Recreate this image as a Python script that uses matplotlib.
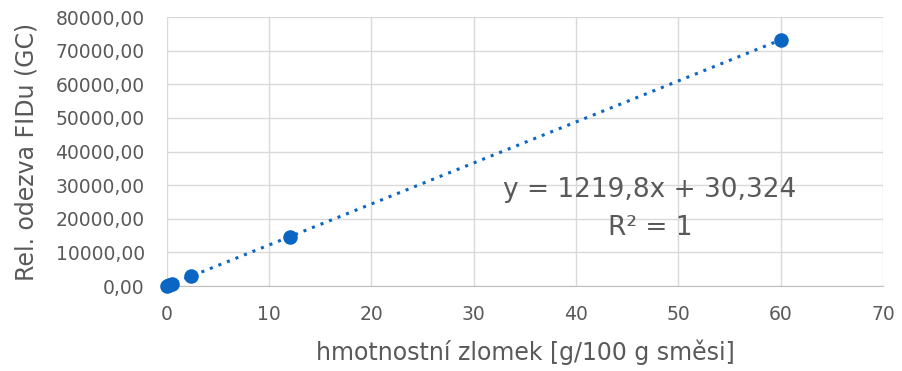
import numpy as np
import matplotlib.pyplot as plt
from matplotlib.ticker import FuncFormatter

# data
conc = [0.05, 0.25, 0.5, 2.4, 12.0, 60.0]
resp = [90.0, 335.0, 640.0, 2960.0, 14670.0, 73220.0]
slope = 1219.8
intercept = 30.324

xticks = [0, 10, 20, 30, 40, 50, 60, 70]
yticks = [0, 10000, 20000, 30000, 40000, 50000, 60000, 70000, 80000]

blue = "#0a66c2"
gray = "#595959"

plt.rcParams['font.family'] = ['DejaVu Sans']

fig = plt.figure(figsize=(9.02, 3.71), dpi=100)
ax = fig.add_axes([0.185, 0.229, 0.794, 0.725])

xl = np.array([min(conc), max(conc)])
ax.plot(xl, slope * xl + intercept, linestyle=(0, (1, 2)), color=blue, lw=2.2, zorder=2)
ax.scatter(conc, resp, s=110, color=blue, zorder=3, linewidths=0, clip_on=False)

ax.set_xlim(0, 70)
ax.set_ylim(0, 80000)
ax.set_xticks(xticks)
ax.set_yticks(yticks)
ax.yaxis.set_major_formatter(FuncFormatter(lambda v, p: f"{v:.2f}".replace(".", ",")))
ax.grid(True, color="#d9d9d9", lw=1)
ax.set_axisbelow(True)
for s in ["top", "right", "left"]:
    ax.spines[s].set_visible(False)
ax.spines["bottom"].set_color("#bfbfbf")
ax.tick_params(length=0, labelsize=13.5, colors=gray)
ax.tick_params(axis="y", pad=16)
ax.tick_params(axis="x", pad=14)

ax.set_xlabel("hmotnostní zlomek [g/100 g směsi]", fontsize=17, color=gray, va="center")
ax.set_ylabel("Rel. odezva FIDu (GC)", fontsize=17, color=gray, va="center")
ax.xaxis.set_label_coords(0.5, -0.245)
ax.yaxis.set_label_coords(-0.1955, 0.5)

ax.text(47.2, 28500, "y = 1219,8x + 30,324", fontsize=19, color=gray, ha="center", va="center")
ax.text(47.2, 17300, "R² = 1", fontsize=19, color=gray, ha="center", va="center")

fig.savefig("out.png", dpi=100)
